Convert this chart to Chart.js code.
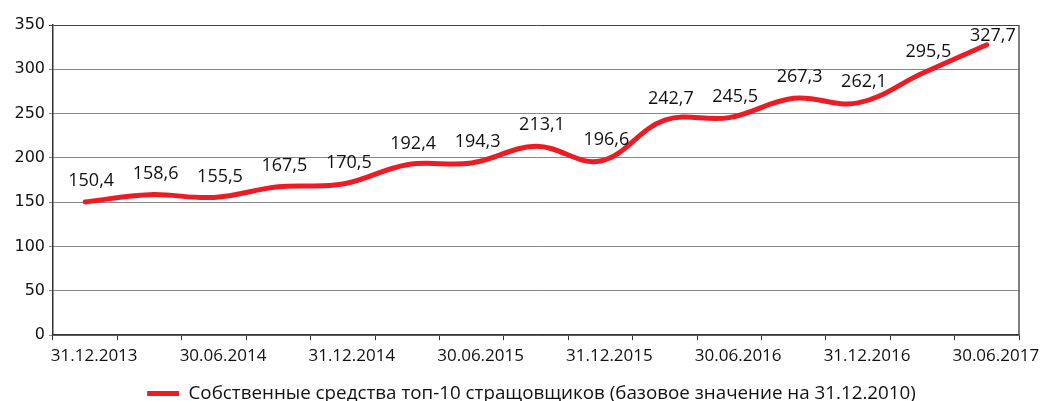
<!DOCTYPE html>
<html>
<head>
<meta charset="utf-8">
<script src="https://cdn.jsdelivr.net/npm/chart.js@4/dist/chart.umd.min.js"></script>
<style>
  html, body { margin: 0; padding: 0; background: #fff; }
  #wrap { width: 1041px; height: 401px; }
</style>
</head>
<body>
<div id="wrap"><canvas id="chart"></canvas></div>
<script>
const dates = [
  "31.12.2013", "31.03.2014", "30.06.2014", "30.09.2014", "31.12.2014",
  "31.03.2015", "30.06.2015", "30.09.2015", "31.12.2015", "31.03.2016",
  "30.06.2016", "30.09.2016", "31.12.2016", "31.03.2017", "30.06.2017"
];
const values = [150.4, 158.6, 155.5, 167.5, 170.5, 192.4, 194.3, 213.1, 196.6, 242.7, 245.5, 267.3, 262.1, 295.5, 327.7];
const yTicks = [0, 50, 100, 150, 200, 250, 300, 350];
const seriesName = "Собственные средства топ-10 стращовщиков (базовое значение на 31.12.2010)";

const RED = "#ed1c24";

// value labels above each point, pushed down if they would leave the plot
const valueLabels = {
  id: "valueLabels",
  afterDatasetsDraw(chart) {
    const { ctx, chartArea } = chart;
    const meta = chart.getDatasetMeta(0);
    ctx.save();
    ctx.font = '18px "Open Sans"';
    ctx.fillStyle = "#111";
    ctx.textAlign = "center";
    ctx.textBaseline = "middle";
    meta.data.forEach((pt, i) => {
      const txt = values[i].toFixed(1).replace(".", ",");
      const y = Math.max(pt.y - 21, chartArea.top + 11);
      ctx.fillText(txt, pt.x + 6, y);
    });
    ctx.restore();
  }
};

// right edge of the plot frame
const plotFrame = {
  id: "plotFrame",
  beforeDatasetsDraw(chart) {
    const { ctx, chartArea } = chart;
    ctx.save();
    ctx.strokeStyle = "#555";
    ctx.lineWidth = 1.5;
    ctx.beginPath();
    ctx.moveTo(chartArea.right, chartArea.top);
    ctx.lineTo(chartArea.right, chartArea.bottom);
    ctx.stroke();
    ctx.restore();
  },
  afterLayout(chart) {
    const lg = chart.legend;
    if (lg) { lg.left += 22; lg.right += 22; }
  }
};

new Chart(document.getElementById("chart"), {
  type: "line",
  data: {
    labels: dates,
    datasets: [{
      label: seriesName,
      data: values,
      borderColor: RED,
      backgroundColor: RED,
      borderWidth: 5,
      borderCapStyle: "round",
      tension: 0.38,
      pointRadius: 0,
      pointHoverRadius: 0,
      clip: false
    }]
  },
  options: {
    responsive: true,
    maintainAspectRatio: false,
    animation: false,
    layout: { padding: { left: 0, right: 22, top: 25, bottom: -12 } },
    plugins: {
      tooltip: { enabled: false },
      legend: {
        position: "bottom",
        labels: {
          usePointStyle: true,
          pointStyle: "line",
          pointStyleWidth: 32,
          padding: 2,
          color: "#111",
          font: { family: "Open Sans", size: 18.8 }
        }
      }
    },
    scales: {
      x: {
        offset: true,
        afterFit: s => { s.height = 47; },
        grid: {
          offset: true,
          drawOnChartArea: false,
          drawTicks: true,
          tickLength: 5,
          color: "#333"
        },
        border: { color: "#333", width: 1.5 },
        ticks: {
          autoSkip: false,
          maxRotation: 0,
          padding: 6,
          labelOffset: 9,
          color: "#111",
          font: { family: "Open Sans", size: 17 },
          callback: (v, i) => (i % 2 === 0 ? dates[i] : "")
        }
      },
      y: {
        min: 0,
        max: 350,
        afterFit: s => { s.width = 53; },
        afterBuildTicks: s => { s.ticks = yTicks.map(v => ({ value: v })); },
        grid: {
          tickLength: 4,
          color: c => (c.tick && c.tick.value === 350 ? "#444" : "#888"),
          lineWidth: 1
        },
        border: { color: "#333", width: 1.5 },
        ticks: {
          padding: 4,
          color: "#111",
          font: { family: "DejaVu Sans", size: 16 }
        }
      }
    }
  },
  plugins: [valueLabels, plotFrame]
});
</script>
</body>
</html>
